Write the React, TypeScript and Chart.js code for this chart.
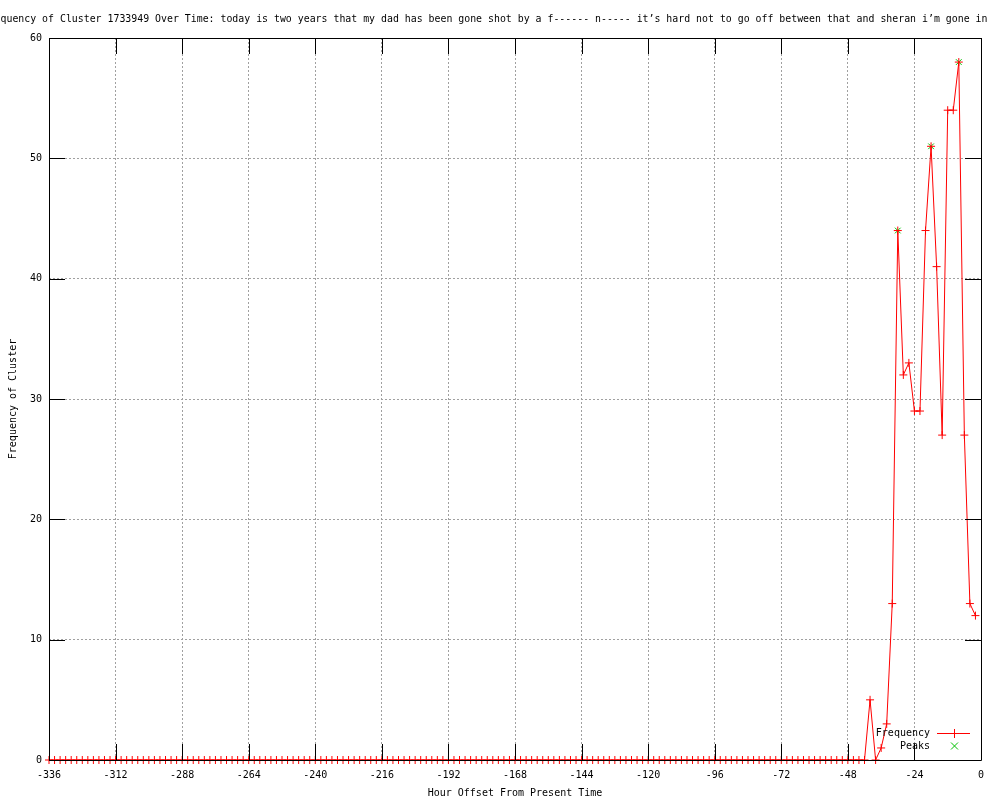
import { useEffect, useRef } from 'react';
import { Chart, registerables } from 'chart.js';

Chart.register(...registerables);

const TITLE =
  'Frequency of Cluster 1733949 Over Time: today is two years that my dad has been gone shot by a f------ n----- it’s hard not to go off between that and sheran i’m gone in';
const X_TITLE = 'Hour Offset From Present Time';
const Y_TITLE = 'Frequency of Cluster';
const SERIES_NAMES = ['Frequency', 'Peaks'];

const HOURS = [
  -336, -334, -332, -330, -328, -326, -324, -322, -320, -318, -316, -314,
  -312, -310, -308, -306, -304, -302, -300, -298, -296, -294, -292, -290,
  -288, -286, -284, -282, -280, -278, -276, -274, -272, -270, -268, -266,
  -264, -262, -260, -258, -256, -254, -252, -250, -248, -246, -244, -242,
  -240, -238, -236, -234, -232, -230, -228, -226, -224, -222, -220, -218,
  -216, -214, -212, -210, -208, -206, -204, -202, -200, -198, -196, -194,
  -192, -190, -188, -186, -184, -182, -180, -178, -176, -174, -172, -170,
  -168, -166, -164, -162, -160, -158, -156, -154, -152, -150, -148, -146,
  -144, -142, -140, -138, -136, -134, -132, -130, -128, -126, -124, -122,
  -120, -118, -116, -114, -112, -110, -108, -106, -104, -102, -100, -98,
  -96, -94, -92, -90, -88, -86, -84, -82, -80, -78, -76, -74,
  -72, -70, -68, -66, -64, -62, -60, -58, -56, -54, -52, -50,
  -48, -46, -44, -42, -40, -38, -36, -34, -32, -30, -28, -26,
  -24, -22, -20, -18, -16, -14, -12, -10, -8, -6, -4, -2,
];

const FREQUENCY = [
  0, 0, 0, 0, 0, 0, 0, 0, 0, 0, 0, 0,
  0, 0, 0, 0, 0, 0, 0, 0, 0, 0, 0, 0,
  0, 0, 0, 0, 0, 0, 0, 0, 0, 0, 0, 0,
  0, 0, 0, 0, 0, 0, 0, 0, 0, 0, 0, 0,
  0, 0, 0, 0, 0, 0, 0, 0, 0, 0, 0, 0,
  0, 0, 0, 0, 0, 0, 0, 0, 0, 0, 0, 0,
  0, 0, 0, 0, 0, 0, 0, 0, 0, 0, 0, 0,
  0, 0, 0, 0, 0, 0, 0, 0, 0, 0, 0, 0,
  0, 0, 0, 0, 0, 0, 0, 0, 0, 0, 0, 0,
  0, 0, 0, 0, 0, 0, 0, 0, 0, 0, 0, 0,
  0, 0, 0, 0, 0, 0, 0, 0, 0, 0, 0, 0,
  0, 0, 0, 0, 0, 0, 0, 0, 0, 0, 0, 0,
  0, 0, 0, 0, 5, 0, 1, 3, 13, 44, 32, 33,
  29, 29, 44, 51, 41, 27, 54, 54, 58, 27, 13, 12,
];

const PEAK_HOURS = [-30, -18, -8];
const PEAK_VALUES = [44, 51, 58];

const X_TICKS = [-336, -312, -288, -264, -240, -216, -192, -168, -144, -120, -96, -72, -48, -24, 0];
const Y_TICKS = [0, 10, 20, 30, 40, 50, 60];

const FONT_FAMILY = "'DejaVu Sans Mono', monospace";
const RED = '#ff0000';
const GREEN = '#00c000';
const GRID = '#a0a0a0';
const TICK_LEN = 16;

const gnuplotPlugin = {
  id: 'gnuplotFrame',
  afterDatasetsDraw(chart: any) {
    const { ctx, chartArea, scales } = chart;
    const { left, right, top, bottom } = chartArea;
    const xs = scales.x;
    const ys = scales.y;
    ctx.save();
    ctx.strokeStyle = '#000';
    ctx.lineWidth = 1;
    ctx.setLineDash([]);
    ctx.beginPath();
    ctx.rect(left + 0.5, top + 0.5, right - left, bottom - top);
    ctx.stroke();
    ctx.beginPath();
    X_TICKS.forEach((v) => {
      const px = Math.round(xs.getPixelForValue(v)) + 0.5;
      ctx.moveTo(px, bottom);
      ctx.lineTo(px, bottom - TICK_LEN);
      ctx.moveTo(px, top);
      ctx.lineTo(px, top + TICK_LEN);
    });
    Y_TICKS.forEach((v) => {
      const py = Math.round(ys.getPixelForValue(v)) + 0.5;
      ctx.moveTo(left, py);
      ctx.lineTo(left + TICK_LEN, py);
      ctx.moveTo(right, py);
      ctx.lineTo(right - TICK_LEN, py);
    });
    ctx.stroke();

    // legend
    ctx.font = `10px ${FONT_FAMILY}`;
    ctx.fillStyle = '#000';
    ctx.textAlign = 'right';
    ctx.textBaseline = 'middle';
    const textRight = right - 51;
    const y1 = bottom - 27;
    const y2 = bottom - 14;
    ctx.fillText(SERIES_NAMES[0], textRight, y1);
    ctx.fillText(SERIES_NAMES[1], textRight, y2);
    const sx0 = right - 44;
    const sx1 = right - 11;
    const mx = Math.round((sx0 + sx1) / 2) + 0.5;
    ctx.strokeStyle = RED;
    ctx.beginPath();
    ctx.moveTo(sx0, y1 + 0.5);
    ctx.lineTo(sx1, y1 + 0.5);
    ctx.moveTo(mx, y1 - 4);
    ctx.lineTo(mx, y1 + 5);
    ctx.stroke();
    ctx.strokeStyle = GREEN;
    ctx.beginPath();
    ctx.moveTo(mx - 3.5, y2 - 3.5);
    ctx.lineTo(mx + 3.5, y2 + 3.5);
    ctx.moveTo(mx + 3.5, y2 - 3.5);
    ctx.lineTo(mx - 3.5, y2 + 3.5);
    ctx.stroke();
    ctx.restore();
  },
  afterDraw(chart: any) {
    const { ctx } = chart;
    ctx.save();
    ctx.font = `9.9px ${FONT_FAMILY}`;
    ctx.fillStyle = '#000';
    ctx.textAlign = 'left';
    ctx.textBaseline = 'middle';
    const offset = ctx.measureText('Fre').width;
    ctx.fillText(TITLE, -offset + 0.5, 19);
    ctx.restore();
  },
};

export default function App() {
  const canvasRef = useRef<HTMLCanvasElement | null>(null);

  useEffect(() => {
    if (!canvasRef.current) return;
    const font = { family: FONT_FAMILY, size: 10 };
    const chart = new Chart(canvasRef.current, {
      type: 'line',
      data: {
        datasets: [
          {
            label: SERIES_NAMES[0],
            data: HOURS.map((h, i) => ({ x: h, y: FREQUENCY[i] })),
            borderColor: RED,
            backgroundColor: RED,
            borderWidth: 1,
            pointStyle: 'cross',
            pointRadius: 4,
            pointBorderWidth: 1,
            pointBorderColor: RED,
            tension: 0,
            clip: false as any,
            order: 1,
          },
          {
            label: SERIES_NAMES[1],
            data: PEAK_HOURS.map((h, i) => ({ x: h, y: PEAK_VALUES[i] })),
            showLine: false,
            borderColor: GREEN,
            backgroundColor: GREEN,
            pointStyle: 'crossRot',
            pointRadius: 4,
            pointBorderWidth: 1,
            pointBorderColor: GREEN,
            clip: false as any,
            order: 2,
          },
        ],
      },
      options: {
        responsive: false,
        animation: false,
        events: [],
        layout: { padding: { top: 38, right: 19, left: 0, bottom: 0 } },
        plugins: {
          legend: { display: false },
          title: { display: false },
          tooltip: { enabled: false },
        },
        scales: {
          x: {
            type: 'linear',
            min: -336,
            max: 0,
            afterBuildTicks: (s: any) => {
              s.ticks = X_TICKS.map((v) => ({ value: v }));
            },
            afterFit: (s: any) => {
              s.height = 40;
            },
            ticks: {
              font,
              color: '#000',
              padding: 9,
              maxRotation: 0,
              autoSkip: false,
              callback: (v: any) => String(v),
            },
            grid: { color: GRID, lineWidth: 1, drawTicks: false },
            border: { display: false, dash: [2, 2] },
            title: {
              display: true,
              text: X_TITLE,
              font,
              color: '#000',
              padding: { top: 0, bottom: 1 },
            },
          },
          y: {
            type: 'linear',
            min: 0,
            max: 60,
            afterBuildTicks: (s: any) => {
              s.ticks = Y_TICKS.map((v) => ({ value: v }));
            },
            afterFit: (s: any) => {
              s.width = 49;
            },
            ticks: {
              font,
              color: '#000',
              padding: 7,
              autoSkip: false,
              callback: (v: any) => String(v),
            },
            grid: { color: GRID, lineWidth: 1, drawTicks: false },
            border: { display: false, dash: [2, 2] },
            title: {
              display: true,
              text: Y_TITLE,
              font,
              color: '#000',
              padding: { top: 7, bottom: 0 },
            },
          },
        },
      },
      plugins: [gnuplotPlugin],
    } as any);
    return () => chart.destroy();
  }, []);

  return (
    <div style={{ position: 'absolute', left: 0, top: 0, width: 1000, height: 800, background: '#fff' }}>
      <canvas ref={canvasRef} width={1000} height={800} style={{ display: 'block' }} />
    </div>
  );
}
